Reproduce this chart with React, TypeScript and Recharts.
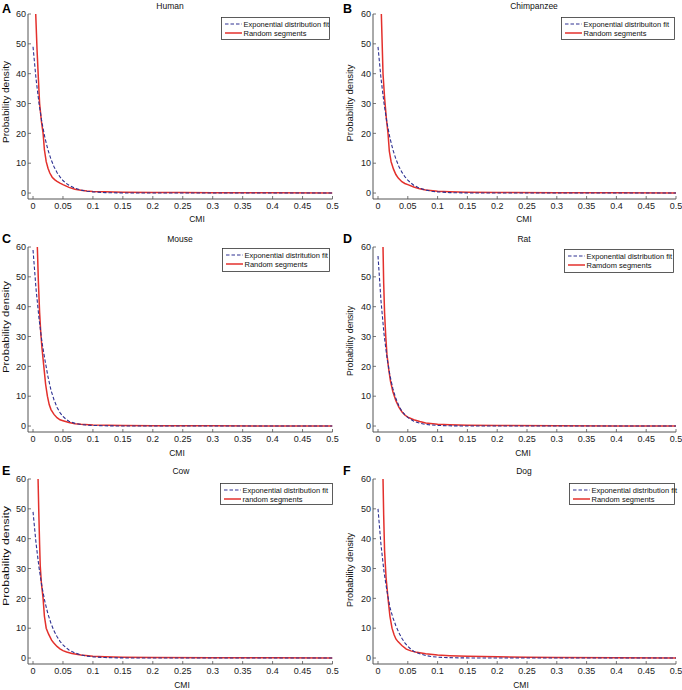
import React from 'react';
import { LineChart, Line, XAxis, YAxis } from 'recharts';

// ---------- tick labels & names ----------
const xTicks = [0, 0.05, 0.1, 0.15, 0.2, 0.25, 0.3, 0.35, 0.4, 0.45, 0.5];
const xTickLabels = ['0', '0.05', '0.1', '0.15', '0.2', '0.25', '0.3', '0.35', '0.4', '0.45', '0.5'];
const yTicks = [0, 10, 20, 30, 40, 50, 60];
const panelLetters = ['A', 'B', 'C', 'D', 'E', 'F'];
const speciesNames = ['Human', 'Chimpanzee', 'Mouse', 'Rat', 'Cow', 'Dog'];
const fitLabels = [
  'Exponential distribution fit',
  'Exponential distribuiton fit',
  'Exponential distritution fit',
  'Exponential distribution fit',
  'Exponential distribution fit',
  'Exponential distribution fit',
];
const randomLabels = ['Random segments', 'Random segments', 'Random segments', 'Ramdom segments', 'random segments', 'Random segments'];

// ---------- exponential fit curves (shared CMI grid) ----------
const fitX = [0, 0.005, 0.01, 0.015, 0.02, 0.025, 0.03, 0.035, 0.04, 0.045, 0.05, 0.055, 0.06, 0.07, 0.08, 0.09, 0.1, 0.12, 0.14, 0.16, 0.2, 0.25, 0.3, 0.35, 0.4, 0.45, 0.5];
const humanFit = [49, 38.3, 30, 23.5, 18.4, 14.4, 11.3, 8.8, 6.9, 5.4, 4.2, 3.3, 2.6, 1.6, 1.0, 0.6, 0.4, 0.14, 0.05, 0.02, 0, 0, 0, 0, 0, 0, 0];
const chimpFit = [49, 38.5, 30.2, 23.6, 18.5, 14.5, 11.4, 8.9, 7.0, 5.5, 4.3, 3.4, 2.6, 1.6, 1.0, 0.6, 0.4, 0.15, 0.05, 0.02, 0, 0, 0, 0, 0, 0, 0];
const mouseFit = [59, 46, 36, 28, 22, 16.5, 12, 8.8, 6.3, 4.5, 3.2, 2.3, 1.6, 0.9, 0.5, 0.3, 0.2, 0.07, 0.03, 0.01, 0, 0, 0, 0, 0, 0, 0];
const ratFit = [57, 42, 31, 23, 17, 12.5, 9.2, 6.8, 5.0, 3.8, 2.9, 2.2, 1.6, 0.95, 0.55, 0.35, 0.2, 0.08, 0.03, 0.01, 0, 0, 0, 0, 0, 0, 0];
const cowFit = [49, 38.5, 30.3, 23.8, 18.7, 14.7, 11.6, 9.1, 7.2, 5.6, 4.4, 3.5, 2.7, 1.7, 1.05, 0.65, 0.4, 0.16, 0.06, 0.02, 0, 0, 0, 0, 0, 0, 0];
const dogFit = [50, 38, 29, 22.5, 17, 13.5, 10.8, 8.5, 6.6, 5.1, 3.9, 3.0, 2.3, 1.4, 0.85, 0.5, 0.3, 0.12, 0.05, 0.02, 0, 0, 0, 0, 0, 0, 0];

// ---------- random segment densities ----------
const humanRandomX = [0.003, 0.0045, 0.0067, 0.009, 0.011, 0.014, 0.0168, 0.019, 0.022, 0.025, 0.028, 0.032, 0.036, 0.04, 0.045, 0.05, 0.06, 0.07, 0.08, 0.09, 0.1, 0.12, 0.15, 0.2, 0.25, 0.3, 0.4, 0.5];
const humanRandomY = [72, 60, 48, 38, 30, 24, 20, 14.5, 10.5, 8.3, 6.7, 5.3, 4.5, 3.9, 3.3, 2.8, 1.9, 1.3, 0.9, 0.7, 0.55, 0.4, 0.3, 0.2, 0.15, 0.1, 0.06, 0.04];
const chimpRandomX = [0.004, 0.0056, 0.007, 0.0084, 0.011, 0.014, 0.0168, 0.019, 0.022, 0.026, 0.03, 0.034, 0.04, 0.045, 0.05, 0.06, 0.07, 0.08, 0.1, 0.12, 0.15, 0.2, 0.3, 0.4, 0.5];
const chimpRandomY = [72, 60, 50, 40, 32, 25, 20, 14, 10.5, 8, 6.2, 5, 3.8, 3.2, 2.8, 2.0, 1.4, 1.0, 0.6, 0.45, 0.3, 0.2, 0.1, 0.06, 0.04];
const mouseRandomX = [0.006, 0.0072, 0.009, 0.011, 0.013, 0.015, 0.018, 0.021, 0.024, 0.027, 0.03, 0.035, 0.04, 0.045, 0.05, 0.06, 0.07, 0.08, 0.1, 0.15, 0.2, 0.3, 0.4, 0.5];
const mouseRandomY = [68, 60, 48, 38, 31, 26, 20, 14, 10, 7.2, 5.5, 3.9, 2.8, 2.1, 1.8, 1.2, 0.8, 0.6, 0.35, 0.2, 0.12, 0.06, 0.04, 0.02];
const ratRandomX = [0.0075, 0.0084, 0.0095, 0.011, 0.013, 0.015, 0.018, 0.021, 0.025, 0.03, 0.035, 0.04, 0.045, 0.05, 0.06, 0.07, 0.08, 0.1, 0.12, 0.15, 0.2, 0.3, 0.4, 0.5];
const ratRandomY = [68, 60, 48, 38, 30, 24, 19, 15, 11.5, 8.5, 6.3, 4.8, 3.7, 3.0, 2.1, 1.5, 1.0, 0.6, 0.45, 0.3, 0.2, 0.1, 0.05, 0.03];
const cowRandomX = [0.007, 0.0084, 0.0095, 0.011, 0.012, 0.014, 0.0168, 0.019, 0.022, 0.026, 0.031, 0.034, 0.04, 0.045, 0.05, 0.056, 0.065, 0.08, 0.1, 0.12, 0.15, 0.2, 0.3, 0.4, 0.5];
const cowRandomY = [72, 60, 50, 38, 31, 25, 20, 14, 10, 8, 6, 5.2, 3.9, 3.1, 2.5, 2.0, 1.5, 1.0, 0.6, 0.45, 0.3, 0.2, 0.1, 0.06, 0.04];
const dogRandomX = [0.0075, 0.0084, 0.0095, 0.011, 0.0135, 0.0168, 0.02, 0.0235, 0.027, 0.03, 0.0335, 0.04, 0.0475, 0.055, 0.065, 0.08, 0.1, 0.12, 0.15, 0.2, 0.25, 0.3, 0.4, 0.5];
const dogRandomY = [72, 60, 48, 36, 27, 20, 14, 10, 7.8, 6.4, 5.5, 4.2, 3.0, 2.4, 1.9, 1.4, 1.0, 0.8, 0.6, 0.4, 0.3, 0.2, 0.1, 0.05];

const fitSeries = [humanFit, chimpFit, mouseFit, ratFit, cowFit, dogFit];
const randomXSeries = [humanRandomX, chimpRandomX, mouseRandomX, ratRandomX, cowRandomX, dogRandomX];
const randomYSeries = [humanRandomY, chimpRandomY, mouseRandomY, ratRandomY, cowRandomY, dogRandomY];

const zip = (xs: number[], ys: number[]) => xs.map((x, i) => ({ x, y: ys[i] }));

// ---------- layout (page coords) ----------
type Layout = {
  plotL: number; plotT: number; plotW: number; plotH: number;
  title: [number, number]; cmi: [number, number];
  ylab: [number, number, number]; letter: [number, number];
  legend: [number, number, number, number];
};
const layouts: Layout[] = [
  { plotL: 28, plotT: 14, plotW: 304.5, plotH: 185, title: [170, 8.5], cmi: [197, 222], ylab: [6, 102, 82], letter: [2, 12.5], legend: [221, 17, 108, 22] },
  { plotL: 373, plotT: 14, plotW: 303, plotH: 185, title: [534, 8.5], cmi: [524, 222], ylab: [350, 103, 77], letter: [343, 12.5], legend: [561, 17, 113, 22] },
  { plotL: 28, plotT: 247, plotW: 304.5, plotH: 185, title: [180, 241.5], cmi: [177, 456], ylab: [6, 327, 92], letter: [2, 243], legend: [222, 248, 107, 23] },
  { plotL: 373, plotT: 247, plotW: 303, plotH: 185, title: [524, 241.5], cmi: [523, 456], ylab: [350, 341, 70], letter: [343, 243], legend: [564, 249, 109, 23] },
  { plotL: 28, plotT: 479, plotW: 304.5, plotH: 185, title: [181, 474], cmi: [182, 688], ylab: [6, 556, 100], letter: [2, 475], legend: [220, 483, 112, 21] },
  { plotL: 373, plotT: 479, plotW: 303, plotH: 185, title: [524, 474], cmi: [521, 688], ylab: [350, 570, 74], letter: [343, 475], legend: [569, 483, 105, 21] },
];

const FONT = "'Liberation Sans', Arial, Helvetica, sans-serif";
const FRAME = '#555';
const BLUE = '#2e3192';
const RED = '#e3302c';
const X_MIN = -0.0084;
const YLAB_SIZE = 9.5;

const XTick = (props: any) => {
  const { x, y, payload } = props;
  const idx = xTicks.indexOf(payload.value);
  return (
    <g>
      <line x1={x} y1={y} x2={x} y2={y - 3} stroke={FRAME} strokeWidth={0.8} />
      <text x={x} y={y + 10} textAnchor="middle" fontSize={9} fontFamily={FONT} fill="#222">
        {idx >= 0 ? xTickLabels[idx] : String(payload.value)}
      </text>
    </g>
  );
};
const XTopTick = (props: any) => {
  const { x, y } = props;
  return <line x1={x} y1={y} x2={x} y2={y + 3} stroke={FRAME} strokeWidth={0.8} />;
};
const YTick = (props: any) => {
  const { x, y, payload } = props;
  return (
    <g>
      <line x1={x} y1={y} x2={x + 3} y2={y} stroke={FRAME} strokeWidth={0.8} />
      <text x={x - 2} y={y + 3.2} textAnchor="end" fontSize={9} fontFamily={FONT} fill="#222">
        {payload.value}
      </text>
    </g>
  );
};
const YRightTick = (props: any) => {
  const { x, y } = props;
  return <line x1={x} y1={y} x2={x - 3} y2={y} stroke={FRAME} strokeWidth={0.8} />;
};

const Panel = ({ i }: { i: number }) => {
  const L = layouts[i];
  const left = L.plotL - 28;
  const top = L.plotT - 14;
  const rightMargin = 6;
  const width = L.plotW + 28 + rightMargin;
  const height = 14 + L.plotH + 31;
  const fitData = zip(fitX, fitSeries[i]);
  const randData = zip(randomXSeries[i], randomYSeries[i]);
  return (
    <div style={{ position: 'absolute', left, top, width, height }}>
      <LineChart width={width} height={height} margin={{ top: 14, right: rightMargin, bottom: 0, left: 0 }}>
        <XAxis
          xAxisId={0}
          type="number"
          dataKey="x"
          domain={[X_MIN, 0.5]}
          ticks={xTicks}
          allowDataOverflow
          height={31}
          axisLine={{ stroke: FRAME }}
          tickLine={false}
          tickSize={0}
          tickMargin={0}
          tick={<XTick />}
          interval={0}
        />
        <XAxis
          xAxisId="top"
          orientation="top"
          type="number"
          dataKey="x"
          domain={[X_MIN, 0.5]}
          ticks={xTicks}
          allowDataOverflow
          height={0}
          axisLine={{ stroke: FRAME }}
          tickLine={false}
          tickSize={0}
          tickMargin={0}
          tick={<XTopTick />}
          interval={0}
        />
        <YAxis
          yAxisId={0}
          type="number"
          domain={[-2, 60]}
          ticks={yTicks}
          allowDataOverflow
          width={28}
          axisLine={{ stroke: FRAME }}
          tickLine={false}
          tickSize={0}
          tickMargin={0}
          tick={<YTick />}
          interval={0}
        />
        <YAxis
          yAxisId="right"
          orientation="right"
          type="number"
          domain={[-2, 60]}
          ticks={yTicks}
          allowDataOverflow
          width={0}
          axisLine={{ stroke: FRAME }}
          tickLine={false}
          tickSize={0}
          tickMargin={0}
          tick={<YRightTick />}
          interval={0}
        />
        <Line
          xAxisId={0}
          yAxisId={0}
          data={randData}
          dataKey="y"
          type="linear"
          stroke={RED}
          strokeWidth={1.5}
          dot={false}
          activeDot={false}
          isAnimationActive={false}
        />
        <Line
          xAxisId={0}
          yAxisId={0}
          data={fitData}
          dataKey="y"
          type="linear"
          stroke={BLUE}
          strokeWidth={1.1}
          strokeDasharray="3.5 2"
          dot={false}
          activeDot={false}
          isAnimationActive={false}
        />
      </LineChart>
    </div>
  );
};

const Annotations = () => (
  <svg width={682} height={690} style={{ position: 'absolute', left: 0, top: 0, pointerEvents: 'none' }}>
    {layouts.map((L, i) => {
      const [lx, ly, lw, lh] = L.legend;
      return (
        <g key={i} fontFamily={FONT}>
          <text x={L.letter[0]} y={L.letter[1]} fontSize={12.5} fontWeight="bold" fill="#000">
            {panelLetters[i]}
          </text>
          <text x={L.title[0]} y={L.title[1]} fontSize={8.5} textAnchor="middle" fill="#111">
            {speciesNames[i]}
          </text>
          <text x={L.cmi[0]} y={L.cmi[1]} fontSize={8.5} textAnchor="middle" fill="#111">
            CMI
          </text>
          <text
            x={0}
            y={0}
            fontSize={YLAB_SIZE}
            textAnchor="middle"
            textLength={L.ylab[2]}
            lengthAdjust="spacingAndGlyphs"
            fill="#111"
            transform={`translate(${L.ylab[0] + YLAB_SIZE * 0.36}, ${L.ylab[1]}) rotate(-90)`}
          >
            Probability density
          </text>
          <rect x={lx + 0.5} y={ly + 0.5} width={lw} height={lh} fill="#fff" stroke="#333" strokeWidth={0.8} />
          <line x1={lx + 4} y1={ly + 7} x2={lx + 21} y2={ly + 7} stroke={BLUE} strokeWidth={1.1} strokeDasharray="3.5 2" />
          <text x={lx + 22.5} y={ly + 9.6} fontSize={7.5} fill="#111">
            {fitLabels[i]}
          </text>
          <line x1={lx + 4} y1={ly + 16} x2={lx + 21} y2={ly + 16} stroke={RED} strokeWidth={1.5} />
          <text x={lx + 22.5} y={ly + 18.6} fontSize={7.5} fill="#111">
            {randomLabels[i]}
          </text>
        </g>
      );
    })}
  </svg>
);

export default function App() {
  return (
    <div style={{ position: 'absolute', left: 0, top: 0, width: 682, height: 690, background: '#fff', fontFamily: FONT }}>
      {layouts.map((_, i) => (
        <Panel key={i} i={i} />
      ))}
      <Annotations />
    </div>
  );
}
